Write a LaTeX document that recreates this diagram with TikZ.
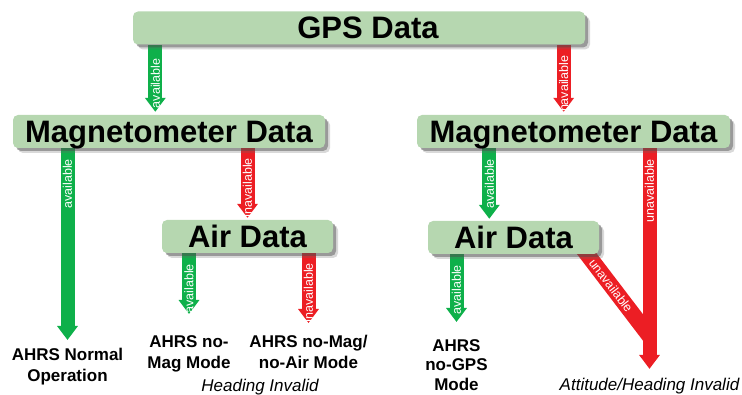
\documentclass[tikz,border=0pt]{standalone}
\usepackage{fontspec}
\setmainfont{Liberation Sans}
\usetikzlibrary{
    arrows.meta,
    calc,
    shadows,
    backgrounds,
    positioning
}
\definecolor{boxgreen}{RGB}{182,215,176}
\definecolor{okgreen}{RGB}{14,176,74}
\definecolor{badred}{RGB}{236,30,36}

\begin{document}
\begin{tikzpicture}[x=1pt, y=-1pt,
    databox/.style={fill=boxgreen, rounded corners=5pt, inner sep=0pt,
        minimum height=33pt, text height=22pt, text depth=0pt,
        font=\fontsize{31}{31}\selectfont\bfseries,
        drop shadow={shadow xshift=5pt, shadow yshift=-5pt, opacity=.25, fill=black!60},
        drop shadow={shadow xshift=3pt, shadow yshift=-3pt, opacity=.45, fill=black!70}},
    result/.style={align=center, inner sep=0pt, anchor=north,
        font=\fontsize{17}{21}\selectfont\bfseries},
    note/.style={inner sep=0pt, font=\fontsize{17}{17}\selectfont\itshape},
    flow/.style={line width=14pt, -{Triangle[width=20pt, length=14pt]}},
    okflow/.style={flow, draw=okgreen},
    badflow/.style={flow, draw=badred},
    tag/.style={text=white, rotate=90, anchor=east, pos=0,
        inner xsep=4pt, inner ysep=0pt, font=\fontsize{12.5}{12.5}\selectfont}
]
    \useasboundingbox (0,0) rectangle (742,395);

    % decision boxes
    \node[databox, minimum width=452pt] (gps) at (359,28) {\hspace*{18pt}GPS Data};
    \node[databox, minimum width=312pt] (lmag) at (169,131.5) {Magnetometer Data};
    \node[databox, minimum width=313pt] (rmag) at (573.5,131.5) {Magnetometer Data};
    \node[databox, minimum width=171pt] (lair) at (247.5,236.5) {Air Data};
    \node[databox, minimum width=171pt] (rair) at (513.5,237.5) {Air Data};

    % outcomes
    \node[result] (normal) at (67.5,348) {AHRS Normal\\Operation};
    \node[result] (nomag) at (189,335) {AHRS no-\\Mag Mode};
    \node[result] (nomagair) at (308.5,335) {AHRS no-Mag/\\no-Air Mode};
    \node[note] (headinv) at (260,387) {Heading Invalid};
    \node[result, font=\fontsize{17}{19.5}\selectfont\bfseries] (nogps) at (456.5,339) {AHRS\\no-GPS\\Mode};
    \node[note] (attinv) at (649.5,386) {Attitude/Heading Invalid};

    \coordinate (gpsok) at ([xshift=22.5pt]gps.south west);
    \coordinate (gpsbad) at ([xshift=-21.5pt]gps.south east);
    \coordinate (rmagok) at ([xshift=72.5pt]rmag.south west);
    \coordinate (rairbad) at ([xshift=66pt, yshift=10pt]rair.south);
    \coordinate (jn) at (649.5,336);

    \begin{scope}[on background layer]
        \draw[okflow, shorten >=3pt] (gpsok) -- (gpsok |- lmag.north) node[tag, inner xsep=7pt] {available};
        \draw[badflow, shorten >=3pt] (gpsbad) -- (gpsbad |- rmag.north) node[tag] {unavailable};

        \draw[okflow, shorten >=8pt] (lmag.south -| normal.north) -- (normal.north) node[tag] {available};
        \draw[badflow, shorten >=2pt] (lmag.south -| lair.north) -- (lair.north) node[tag, inner xsep=3pt] {unavailable};
        \draw[okflow, shorten >=21pt] (lair.south -| nomag.north) -- (nomag.north) node[tag] {available};
        \draw[badflow, shorten >=12pt] (lair.south -| nomagair.north) -- (nomagair.north) node[tag, inner xsep=3pt] {unavailable};

        \draw[okflow, shorten >=2pt] (rmagok) -- (rmagok |- rair.north) node[tag] {available};
        \draw[okflow, shorten >=17pt] (rair.south -| nogps.north) -- (nogps.north) node[tag] {available};
        \draw[line width=16pt, draw=badred] (rairbad) -- (jn)
            node[sloped, pos=.45, text=white, inner sep=0pt, font=\fontsize{12.5}{12.5}\selectfont] {unavailable};
        \draw[badflow] (rmag.south -| attinv.north) -- ([yshift=9pt]attinv.north) node[tag] {unavailable};
    \end{scope}
\end{tikzpicture}
\end{document}
